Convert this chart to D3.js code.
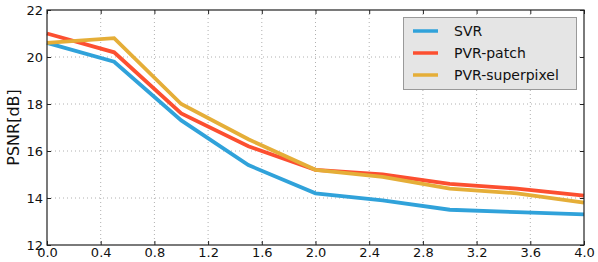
<!DOCTYPE html>
<html><head><meta charset="utf-8">
<script src="https://cdn.jsdelivr.net/npm/d3@7"></script>
<style>body{margin:0;background:#fff}svg{display:block}text{font-family:"DejaVu Sans",sans-serif}</style>
</head><body><svg id="c" width="598" height="262"></svg>
<script>
const xValues = [0, 0.5, 1.0, 1.5, 2.0, 2.5, 3.0, 3.5, 4.0];
const svr = [20.6, 19.8, 17.3, 15.4, 14.2, 13.9, 13.5, 13.4, 13.3];
const pvrPatch = [21.0, 20.2, 17.6, 16.2, 15.2, 15.0, 14.6, 14.4, 14.1];
const pvrSuperpixel = [20.6, 20.8, 18.0, 16.5, 15.2, 14.9, 14.4, 14.2, 13.8];
const seriesNames = ["SVR", "PVR-patch", "PVR-superpixel"];
const seriesColors = ["#30a2da", "#fc4f30", "#e5ae38"];
const xTicks = [0, 0.4, 0.8, 1.2, 1.6, 2.0, 2.4, 2.8, 3.2, 3.6, 4.0];
const yTicks = [12, 14, 16, 18, 20, 22];

const series = [svr, pvrPatch, pvrSuperpixel];
const svg = d3.select("#c");
const L = 47, R = 584, T = 10, B = 245;
const x = d3.scaleLinear().domain([0, 4]).range([L, R]);
const y = d3.scaleLinear().domain([12, 22]).range([B, T]);

// grid
const g = svg.append("g");
g.selectAll(".gx").data(xTicks.slice(1, -1)).join("line")
  .attr("x1", d => x(d)).attr("x2", d => x(d)).attr("y1", T).attr("y2", B)
  .attr("stroke", "#b0b0b0").attr("stroke-width", 1).attr("stroke-dasharray", "1,3");
g.selectAll(".gy").data(yTicks.slice(1, -1)).join("line")
  .attr("x1", L).attr("x2", R).attr("y1", d => y(d)).attr("y2", d => y(d))
  .attr("stroke", "#b0b0b0").attr("stroke-width", 1).attr("stroke-dasharray", "1,3");

// lines
const line = d3.line().x((d, i) => x(xValues[i])).y(d => y(d));
series.forEach((s, k) => {
  svg.append("path").datum(s).attr("d", line).attr("fill", "none")
    .attr("stroke", seriesColors[k]).attr("stroke-width", 3.8).attr("stroke-linejoin", "miter");
});

// axes (inward ticks on all sides)
const fmt = d3.format(".1f");
const ax = svg.append("g").attr("transform", `translate(0,${B})`)
  .call(d3.axisBottom(x).tickValues(xTicks).tickFormat(fmt).tickSizeInner(-4).tickSizeOuter(0).tickPadding(3));
const axT = svg.append("g").attr("transform", `translate(0,${T})`)
  .call(d3.axisTop(x).tickValues(xTicks).tickFormat("").tickSizeInner(-4).tickSizeOuter(0));
const ay = svg.append("g").attr("transform", `translate(${L},0)`)
  .call(d3.axisLeft(y).tickValues(yTicks).tickFormat(d3.format("d")).tickSizeInner(-4).tickSizeOuter(0).tickPadding(4));
const ayR = svg.append("g").attr("transform", `translate(${R},0)`)
  .call(d3.axisRight(y).tickValues(yTicks).tickFormat("").tickSizeInner(-4).tickSizeOuter(0));
[ax, axT, ay, ayR].forEach(a => {
  a.select(".domain").remove();
  a.selectAll("line").attr("stroke", "#222");
  a.selectAll("text").attr("font-size", 13).attr("fill", "#111").style("font-family", "DejaVu Sans");
});
svg.append("rect").attr("x", L).attr("y", T).attr("width", R - L).attr("height", B - T)
  .attr("fill", "none").attr("stroke", "#222").attr("stroke-width", 1.2);

// y label
svg.append("text").attr("transform", `translate(13,${(T + B) / 2}) rotate(-90)`)
  .attr("text-anchor", "middle").attr("dominant-baseline", "central")
  .attr("font-size", 16).attr("fill", "#111").text("PSNR[dB]");

// legend
const lg = svg.append("g");
lg.append("rect").attr("x", 403.5).attr("y", 17.5).attr("width", 173).attr("height", 72)
  .attr("fill", "#e5e5e5").attr("stroke", "#999").attr("stroke-width", 1);
seriesNames.forEach((n, k) => {
  const yy = 31 + k * 22;
  lg.append("line").attr("x1", 413).attr("x2", 438).attr("y1", yy).attr("y2", yy)
    .attr("stroke", seriesColors[k]).attr("stroke-width", 3.5);
  lg.append("text").attr("x", 454).attr("y", yy).attr("dominant-baseline", "central")
    .attr("font-size", 14).attr("fill", "#111").text(n);
});
</script></body></html>
